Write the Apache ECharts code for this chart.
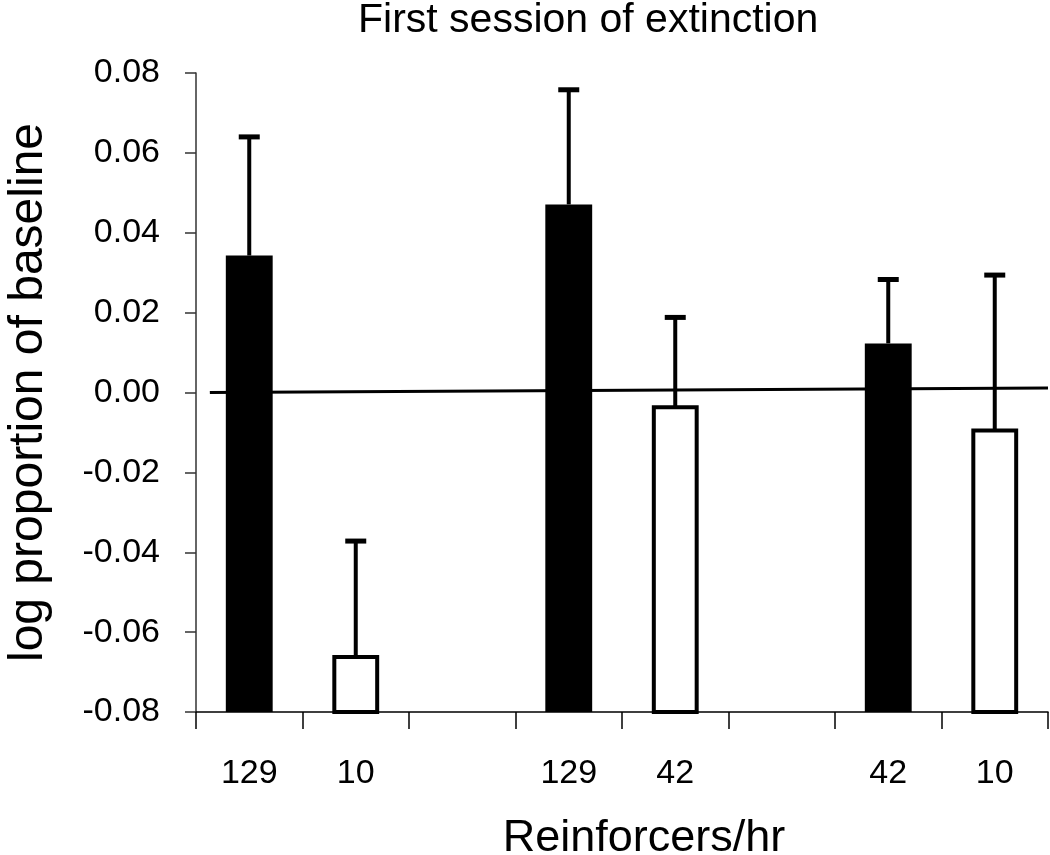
<!DOCTYPE html>
<html>
<head>
<meta charset="utf-8">
<script src="https://cdn.jsdelivr.net/npm/echarts@6/dist/echarts.min.js"></script>
<style>html,body{margin:0;padding:0;background:#fff}#chart{width:1050px;height:855px}</style>
</head>
<body>
<div id="chart"></div>
<script>
// ---- data ----
var categories = ['129', '10', '', '129', '42', '', '42', '10'];
var darkMeans  = [0.0343, null, null, 0.0471, null, null, 0.0123, null];
var darkUpper  = [0.0640, null, null, 0.0758, null, null, 0.0283, null];
var lightMeans = [null, -0.0662, null, null, -0.0037, null, null, -0.0095];
var lightUpper = [null, -0.0372, null, null, 0.0188, null, null, 0.0294];
var zeroLineX = [0.13, 8];
var zeroLineY = [0.0000, 0.0011];

var FONT = '"Liberation Sans", Arial, sans-serif';
var Y_MIN = -0.08, Y_MAX = 0.08;

function rows(means, upper) {
  var out = [];
  for (var i = 0; i < means.length; i++) {
    if (means[i] !== null) out.push([i, means[i], upper[i]]);
  }
  return out;
}

function makeRender(fill, isLight) {
  return function (params, api) {
    var idx = api.value(0), v = api.value(1), up = api.value(2);
    var top = api.coord([idx, v]);
    var base = api.coord([idx, Y_MIN]);
    var errTop = api.coord([idx, up]);
    var w = api.size([1, 0])[0] * 0.44;
    var cap = 21;
    var children = [];
    children.push({
      type: 'line',
      shape: { x1: top[0], y1: top[1], x2: errTop[0], y2: errTop[1] },
      style: { stroke: '#000', lineWidth: 4 }
    });
    children.push({
      type: 'line',
      shape: { x1: errTop[0] - cap / 2, y1: errTop[1], x2: errTop[0] + cap / 2, y2: errTop[1] },
      style: { stroke: '#000', lineWidth: 5 }
    });
    if (isLight) {
      children.push({
        type: 'rect',
        shape: { x: top[0] - w / 2 + 2, y: top[1], width: w - 4, height: base[1] - top[1] },
        style: { fill: fill, stroke: '#000', lineWidth: 4 }
      });
    } else {
      children.push({
        type: 'rect',
        shape: { x: top[0] - w / 2, y: top[1], width: w, height: base[1] - top[1] },
        style: { fill: fill }
      });
    }
    return { type: 'group', children: children };
  };
}

var chart = echarts.init(document.getElementById('chart'), null, { renderer: 'canvas' });
chart.setOption({
  animation: false,
  backgroundColor: '#fff',
  title: {
    text: 'First session of extinction',
    left: 353, top: -5,
    textStyle: { fontFamily: FONT, fontSize: 41, fontWeight: 'normal', color: '#000' }
  },
  grid: { left: 196, right: 2, top: 73, bottom: 143, containLabel: false, outerBoundsMode: 'none' },
  xAxis: [{
    type: 'category',
    data: categories,
    boundaryGap: true,
    name: 'Reinforcers/hr',
    nameLocation: 'middle',
    nameGap: 104,
    nameTextStyle: { fontFamily: FONT, fontSize: 45, color: '#000', padding: [0, 0, 0, 44] },
    axisLine: { onZero: false, lineStyle: { color: '#000', width: 1.5 } },
    axisTick: { show: true, length: 17, lineStyle: { color: '#000', width: 1.5 } },
    axisLabel: { margin: 45, fontFamily: FONT, fontSize: 34, color: '#000', interval: 0 },
    splitLine: { show: false }
  }, {
    type: 'value', min: 0, max: 8, show: false
  }],
  yAxis: {
    type: 'value',
    min: Y_MIN, max: Y_MAX, interval: 0.02,
    name: 'log proportion of baseline',
    nameLocation: 'middle',
    nameGap: 143,
    nameTextStyle: { fontFamily: FONT, fontSize: 48, color: '#000' },
    axisLine: { show: true, lineStyle: { color: '#333', width: 1.5 } },
    axisTick: { show: true, inside: false, length: 11, lineStyle: { color: '#333', width: 1.5 } },
    axisLabel: {
      margin: 36, fontFamily: FONT, fontSize: 34, color: '#000',
      formatter: function (v) { return v.toFixed(2); }
    },
    splitLine: { show: false }
  },
  series: [{
    type: 'line',
    xAxisIndex: 1,
    data: [[zeroLineX[0], zeroLineY[0]], [zeroLineX[1], zeroLineY[1]]],
    symbol: 'none',
    lineStyle: { color: '#000', width: 3 },
    z: 1
  }, {
    type: 'custom',
    data: rows(darkMeans, darkUpper),
    renderItem: makeRender('#000', false),
    z: 3
  }, {
    type: 'custom',
    data: rows(lightMeans, lightUpper),
    renderItem: makeRender('#fff', true),
    z: 3
  }]
});
</script>
</body>
</html>
